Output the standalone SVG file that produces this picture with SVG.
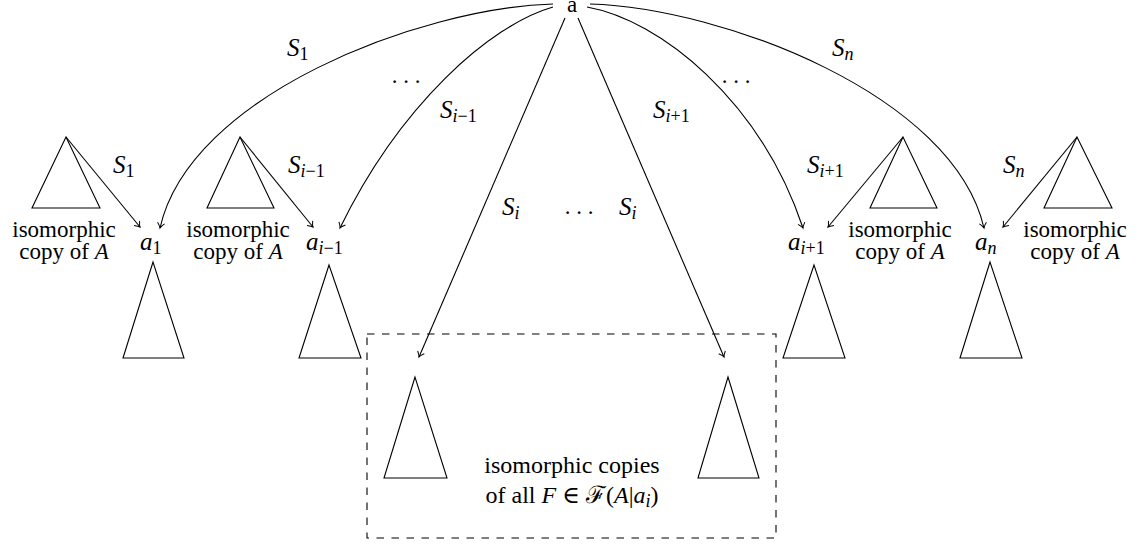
<svg xmlns="http://www.w3.org/2000/svg" width="1141" height="546" viewBox="0 0 1141 546" font-family="'Liberation Serif', 'Times New Roman', 'DejaVu Serif', serif">
<style>
text{font-family:'Liberation Serif','Times New Roman',Times,'DejaVu Serif',serif;font-size:23px;fill:#000}
.lbl{font-size:25px}
.m{font-style:italic}
.sub{font-size:18px}
.c{text-anchor:middle}
.arr{fill:none;stroke:#000;stroke-width:1.1;marker-end:url(#ah)}
.tri{fill:none;stroke:#000;stroke-width:1.1;stroke-linejoin:miter}
.box{fill:none;stroke:#000;stroke-width:1.1;stroke-dasharray:7.5 7.5}
</style>
<defs>
<marker id="ah" viewBox="-6 -5 8 10" markerWidth="8" markerHeight="10" refX="0" refY="0" orient="auto" markerUnits="userSpaceOnUse">
<path d="M-5,-3.6 Q-1.8,-0.6 0,0 Q-1.8,0.6 -5,3.6" fill="none" stroke="#000" stroke-width="1"/>
</marker>
</defs>

<g id="node-a"><text class="c" x="572" y="12">a</text></g>

<g id="node-a1">
<text class="lbl" x="140" y="250"><tspan class="m">a</tspan><tspan class="sub" dy="4">1</tspan></text>
<polygon class="tri" points="153,262 123,358 184,358"/>
</g>
<g id="node-ai-1">
<text class="lbl" x="306" y="250"><tspan class="m">a</tspan><tspan class="sub m" dy="4">i</tspan><tspan class="sub">−1</tspan></text>
<polygon class="tri" points="329,265 299,358 361,358"/>
</g>
<g id="node-ai+1">
<text class="lbl" x="788" y="250"><tspan class="m">a</tspan><tspan class="sub m" dy="4">i</tspan><tspan class="sub">+1</tspan></text>
<polygon class="tri" points="814,265 783,358 845,358"/>
</g>
<g id="node-an">
<text class="lbl" x="975" y="250"><tspan class="m">a</tspan><tspan class="sub m" dy="4">n</tspan></text>
<polygon class="tri" points="990,262 960,358 1022,358"/>
</g>

<g id="copy-1">
<polygon class="tri" points="66,137 32,208 100,208"/>
<text class="c" x="64" y="237">isomorphic</text>
<text class="c" x="64" y="259">copy of <tspan class="m">A</tspan></text>
</g>
<g id="copy-i-1">
<polygon class="tri" points="240,137 207,208 274,208"/>
<text class="c" x="238" y="237">isomorphic</text>
<text class="c" x="238" y="259">copy of <tspan class="m">A</tspan></text>
</g>
<g id="copy-i+1">
<polygon class="tri" points="903,137 870,208 937,208"/>
<text class="c" x="900" y="237">isomorphic</text>
<text class="c" x="900" y="259">copy of <tspan class="m">A</tspan></text>
</g>
<g id="copy-n">
<polygon class="tri" points="1077,137 1044,208 1112,208"/>
<text class="c" x="1075" y="237">isomorphic</text>
<text class="c" x="1075" y="259">copy of <tspan class="m">A</tspan></text>
</g>

<g id="forest-box">
<rect class="box" x="367" y="334" width="409" height="204"/>
<polygon class="tri" points="415,377 384,478 447,478"/>
<polygon class="tri" points="728,377 698,478 759,478"/>
<text class="c" x="572" y="473" style="font-size:24px">isomorphic copies</text>
<text class="c" x="572" y="503" style="font-size:24px">of all <tspan class="m">F</tspan> ∈ ℱ(<tspan class="m">A</tspan>|<tspan class="m">a</tspan><tspan class="sub m" dy="4">i</tspan><tspan dy="-4">)</tspan></text>
</g>

<g id="connectors">
<path class="arr" d="M553,4 C420,8 190,95 160,228"/>
<path class="arr" d="M553,7 C490,25 400,105 340,228"/>
<path class="arr" d="M565,18 L419,357"/>
<path class="arr" d="M578,18 L724,357"/>
<path class="arr" d="M587,7 C660,20 760,100 803,228"/>
<path class="arr" d="M590,4 C723,8 953,95 984,228"/>
<path class="arr" d="M66,137 L140,227"/>
<path class="arr" d="M240,137 L313,227"/>
<path class="arr" d="M903,137 L828,227"/>
<path class="arr" d="M1077,137 L1003,227"/>
</g>

<g id="labels">
<text class="lbl" x="287" y="56"><tspan class="m">S</tspan><tspan class="sub" dy="4">1</tspan></text>
<text class="lbl" x="832" y="56"><tspan class="m">S</tspan><tspan class="sub m" dy="4">n</tspan></text>
<text class="c" x="406" y="83">. . .</text>
<text class="c" x="736" y="83">. . .</text>
<text class="c" x="579" y="214">. . .</text>
<text class="lbl" x="440" y="118"><tspan class="m">S</tspan><tspan class="sub m" dy="4">i</tspan><tspan class="sub">−1</tspan></text>
<text class="lbl" x="653" y="118"><tspan class="m">S</tspan><tspan class="sub m" dy="4">i</tspan><tspan class="sub">+1</tspan></text>
<text class="lbl" x="502" y="215"><tspan class="m">S</tspan><tspan class="sub m" dy="4">i</tspan></text>
<text class="lbl" x="619" y="215"><tspan class="m">S</tspan><tspan class="sub m" dy="4">i</tspan></text>
<text class="lbl" x="113" y="173"><tspan class="m">S</tspan><tspan class="sub" dy="4">1</tspan></text>
<text class="lbl" x="288" y="173"><tspan class="m">S</tspan><tspan class="sub m" dy="4">i</tspan><tspan class="sub">−1</tspan></text>
<text class="lbl" x="807" y="173"><tspan class="m">S</tspan><tspan class="sub m" dy="4">i</tspan><tspan class="sub">+1</tspan></text>
<text class="lbl" x="1003" y="173"><tspan class="m">S</tspan><tspan class="sub m" dy="4">n</tspan></text>
</g>
</svg>
